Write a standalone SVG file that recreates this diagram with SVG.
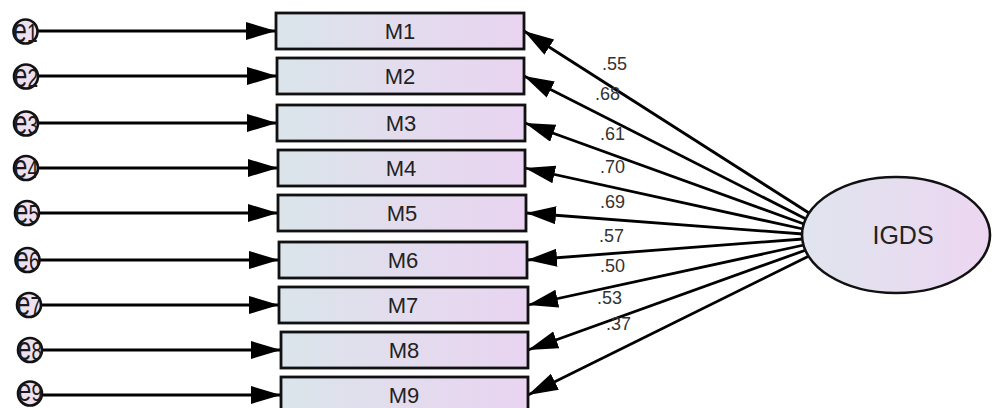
<svg xmlns="http://www.w3.org/2000/svg" width="995" height="408" viewBox="0 0 995 408">
<defs>
<linearGradient id="gBox" x1="0" y1="0" x2="1" y2="0">
<stop offset="0" stop-color="#dae5ea"/>
<stop offset="0.5" stop-color="#e3dcee"/>
<stop offset="1" stop-color="#e9d4f1"/>
</linearGradient>
<linearGradient id="gEll" x1="0" y1="0" x2="1" y2="0">
<stop offset="0" stop-color="#e0e5ee"/>
<stop offset="1" stop-color="#ecd6f1"/>
</linearGradient>
<marker id="ah" markerUnits="userSpaceOnUse" markerWidth="32" markerHeight="20" refX="30" refY="9" orient="auto">
<path d="M0,0 L30,9 L0,18 z" fill="#000"/>
</marker>
</defs>
<style>
.box{fill:url(#gBox);stroke:#111;stroke-width:2.8}
.err{fill:#efe0ef;stroke:#111;stroke-width:2.6}
.lbl{font-family:"Liberation Sans",Arial,sans-serif;font-size:22px;fill:#222;text-anchor:middle}
.elbl{font-family:"Liberation Sans",Arial,sans-serif;font-size:26px;fill:#1a1a1a;text-anchor:middle}
.elbl .e{font-size:33px}
.num{font-family:"Liberation Sans",Arial,sans-serif;font-size:18px;fill:#333}
.con{stroke:#000;stroke-width:2.8;fill:none;marker-end:url(#ah)}
</style>
<rect width="995" height="408" fill="#fff"/>

<g id="connectors">
<line class="con" x1="37" y1="31" x2="276" y2="31"/>
<line class="con" x1="38" y1="76" x2="277" y2="76"/>
<line class="con" x1="38" y1="123" x2="277" y2="123"/>
<line class="con" x1="38" y1="168" x2="278" y2="168"/>
<line class="con" x1="39" y1="213" x2="278" y2="213"/>
<line class="con" x1="39" y1="260" x2="279" y2="260"/>
<line class="con" x1="41" y1="305" x2="279" y2="305"/>
<line class="con" x1="42" y1="350" x2="281" y2="350"/>
<line class="con" x1="42" y1="395" x2="281" y2="395"/>
<line class="con" x1="809" y1="213" x2="524" y2="31"/>
<line class="con" x1="806" y1="219" x2="524" y2="76"/>
<line class="con" x1="804" y1="224" x2="525" y2="123"/>
<line class="con" x1="803" y1="229" x2="525" y2="168"/>
<line class="con" x1="803" y1="234" x2="526" y2="213"/>
<line class="con" x1="803" y1="239" x2="527" y2="260"/>
<line class="con" x1="804" y1="245" x2="528" y2="305"/>
<line class="con" x1="806" y1="250" x2="528" y2="350"/>
<line class="con" x1="809" y1="256" x2="528" y2="395"/>
<text class="num" x="602" y="70">.55</text>
<text class="num" x="595" y="100">.68</text>
<text class="num" x="600" y="140">.61</text>
<text class="num" x="600" y="173">.70</text>
<text class="num" x="600" y="208">.69</text>
<text class="num" x="599" y="242">.57</text>
<text class="num" x="600" y="272">.50</text>
<text class="num" x="597" y="304">.53</text>
<text class="num" x="606" y="330">.37</text>
</g>

<g id="e1"><circle class="err" cx="25.5" cy="31.5" r="12"/><text class="elbl" transform="translate(25.5 41.5) scale(0.74 1)"><tspan class="e">e</tspan>1</text></g>
<g id="e2"><circle class="err" cx="26" cy="76.5" r="12"/><text class="elbl" transform="translate(26 86.5) scale(0.74 1)"><tspan class="e">e</tspan>2</text></g>
<g id="e3"><circle class="err" cx="26" cy="123.5" r="12"/><text class="elbl" transform="translate(26 133.5) scale(0.74 1)"><tspan class="e">e</tspan>3</text></g>
<g id="e4"><circle class="err" cx="26" cy="168" r="12"/><text class="elbl" transform="translate(26 178) scale(0.74 1)"><tspan class="e">e</tspan>4</text></g>
<g id="e5"><circle class="err" cx="27" cy="213" r="12"/><text class="elbl" transform="translate(27 223) scale(0.74 1)"><tspan class="e">e</tspan>5</text></g>
<g id="e6"><circle class="err" cx="27.5" cy="260" r="12"/><text class="elbl" transform="translate(27.5 270) scale(0.74 1)"><tspan class="e">e</tspan>6</text></g>
<g id="e7"><circle class="err" cx="29" cy="305" r="12"/><text class="elbl" transform="translate(29 315) scale(0.74 1)"><tspan class="e">e</tspan>7</text></g>
<g id="e8"><circle class="err" cx="30" cy="350" r="12"/><text class="elbl" transform="translate(30 360) scale(0.74 1)"><tspan class="e">e</tspan>8</text></g>
<g id="e9"><circle class="err" cx="30" cy="393.5" r="12"/><text class="elbl" transform="translate(30 401) scale(0.74 0.95)"><tspan class="e">e</tspan>9</text></g>

<g id="M1"><rect class="box" x="276" y="13" width="248" height="36"/><text class="lbl" x="400" y="39">M1</text></g>
<g id="M2"><rect class="box" x="277" y="58" width="247" height="36"/><text class="lbl" x="400" y="84">M2</text></g>
<g id="M3"><rect class="box" x="277" y="105" width="248" height="36"/><text class="lbl" x="401" y="131">M3</text></g>
<g id="M4"><rect class="box" x="278" y="150" width="247" height="36"/><text class="lbl" x="401" y="176">M4</text></g>
<g id="M5"><rect class="box" x="278" y="195" width="248" height="36"/><text class="lbl" x="402" y="221">M5</text></g>
<g id="M6"><rect class="box" x="279" y="242" width="248" height="36"/><text class="lbl" x="403" y="268">M6</text></g>
<g id="M7"><rect class="box" x="279" y="287" width="249" height="36"/><text class="lbl" x="403" y="313">M7</text></g>
<g id="M8"><rect class="box" x="281" y="332" width="247" height="36"/><text class="lbl" x="404" y="358">M8</text></g>
<g id="M9"><rect class="box" x="281" y="377" width="247" height="36"/><text class="lbl" x="404" y="403">M9</text></g>

<g id="IGDS"><ellipse cx="896" cy="235" rx="94" ry="58" fill="url(#gEll)" stroke="#111" stroke-width="2.6"/><text x="903" y="244" font-family="Liberation Sans, Arial, sans-serif" font-size="25" fill="#222" text-anchor="middle">IGDS</text></g>
</svg>
